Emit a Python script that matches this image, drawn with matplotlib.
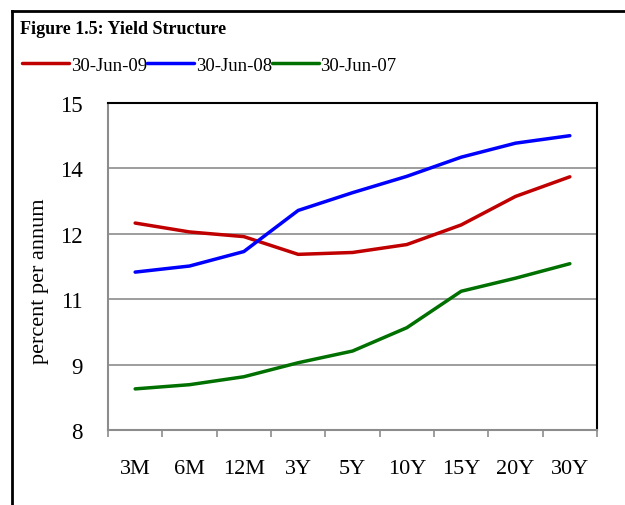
import matplotlib.pyplot as plt
import numpy as np
from matplotlib.lines import Line2D

# Tenors and yields (percent per annum)
tenors = ["3M", "6M", "12M", "3Y", "5Y", "10Y", "15Y", "20Y", "30Y"]
jun09 = [12.43, 12.24, 12.14, 11.76, 11.80, 11.97, 12.39, 13.00, 13.42]
jun08 = [11.38, 11.51, 11.82, 12.70, 13.08, 13.43, 13.84, 14.14, 14.30]
jun07 = [8.88, 8.97, 9.14, 9.44, 9.69, 10.19, 10.97, 11.25, 11.56]
series_names = ["30-Jun-09", "30-Jun-08", "30-Jun-07"]
series_colors = ["#C00000", "#0000FF", "#007000"]

plt.rcParams['font.family'] = ['Liberation Serif', 'DejaVu Serif']

fig = plt.figure(figsize=(6.25, 5.06), dpi=100)
ax = fig.add_axes([108 / 625, 1 - 431 / 506, 489 / 625, 327 / 506])

x = np.arange(len(tenors))
handles = []
for vals, name, col in zip([jun09, jun08, jun07], series_names, series_colors):
    h, = ax.plot(x, vals, color=col, lw=2.5, solid_capstyle='round', label=name)
    handles.append(h)

# y axis: 6 gridlines from 8 to 15, labels rounded like the original
yt = np.linspace(8, 15, 6)
ax.set_ylim(8, 15)
ax.set_yticks(yt)
ax.set_yticklabels([f"{v:.0f}" for v in yt], fontsize=16.5)
ax.yaxis.grid(True, color='#8c8c8c', lw=1.2)
ax.set_axisbelow(True)
ax.tick_params(axis='y', length=0, pad=18)

# x axis: category labels centred, ticks at boundaries
ax.set_xlim(-0.5, len(tenors) - 0.5)
ax.set_xticks(np.arange(len(tenors) + 1) - 0.5)
ax.set_xticklabels([])
ax.set_xticks(x, minor=True)
ax.set_xticklabels(tenors, minor=True, fontsize=16)
ax.tick_params(axis='x', which='major', direction='out', length=5, color='#8c8c8c', width=1.2)
ax.tick_params(axis='x', which='minor', length=0, pad=21)

for side in ['left', 'bottom']:
    ax.spines[side].set_color('#8c8c8c')
    ax.spines[side].set_linewidth(1.5)
for side in ['top', 'right']:
    ax.spines[side].set_color('black')
    ax.spines[side].set_linewidth(1.5)

fig.text(40 / 625, 1 - 281 / 506, "percent per annum", fontsize=16, rotation=90,
         ha='center', va='center')

# title and legend at the top left
fig.text(20 / 625, 1 - 30 / 506, "Figure 1.5: Yield Structure", fontsize=13,
         fontweight='bold', va='center', ha='left')
fig.legend(handles=handles, loc='center left', bbox_to_anchor=(22 / 625, 1 - 66 / 506),
           ncol=3, frameon=False, fontsize=13.5, handlelength=2.5, handletextpad=0.1,
           columnspacing=0.0, borderaxespad=0, borderpad=0)

# outer frame (left and top edges visible)
fig.add_artist(Line2D([12 / 625, 12 / 625], [0, 1 - 12 / 506], color='black', lw=2,
                      transform=fig.transFigure))
fig.add_artist(Line2D([12 / 625, 1], [1 - 12 / 506, 1 - 12 / 506], color='black', lw=2,
                      transform=fig.transFigure))

fig.savefig("out.png", dpi=100)
